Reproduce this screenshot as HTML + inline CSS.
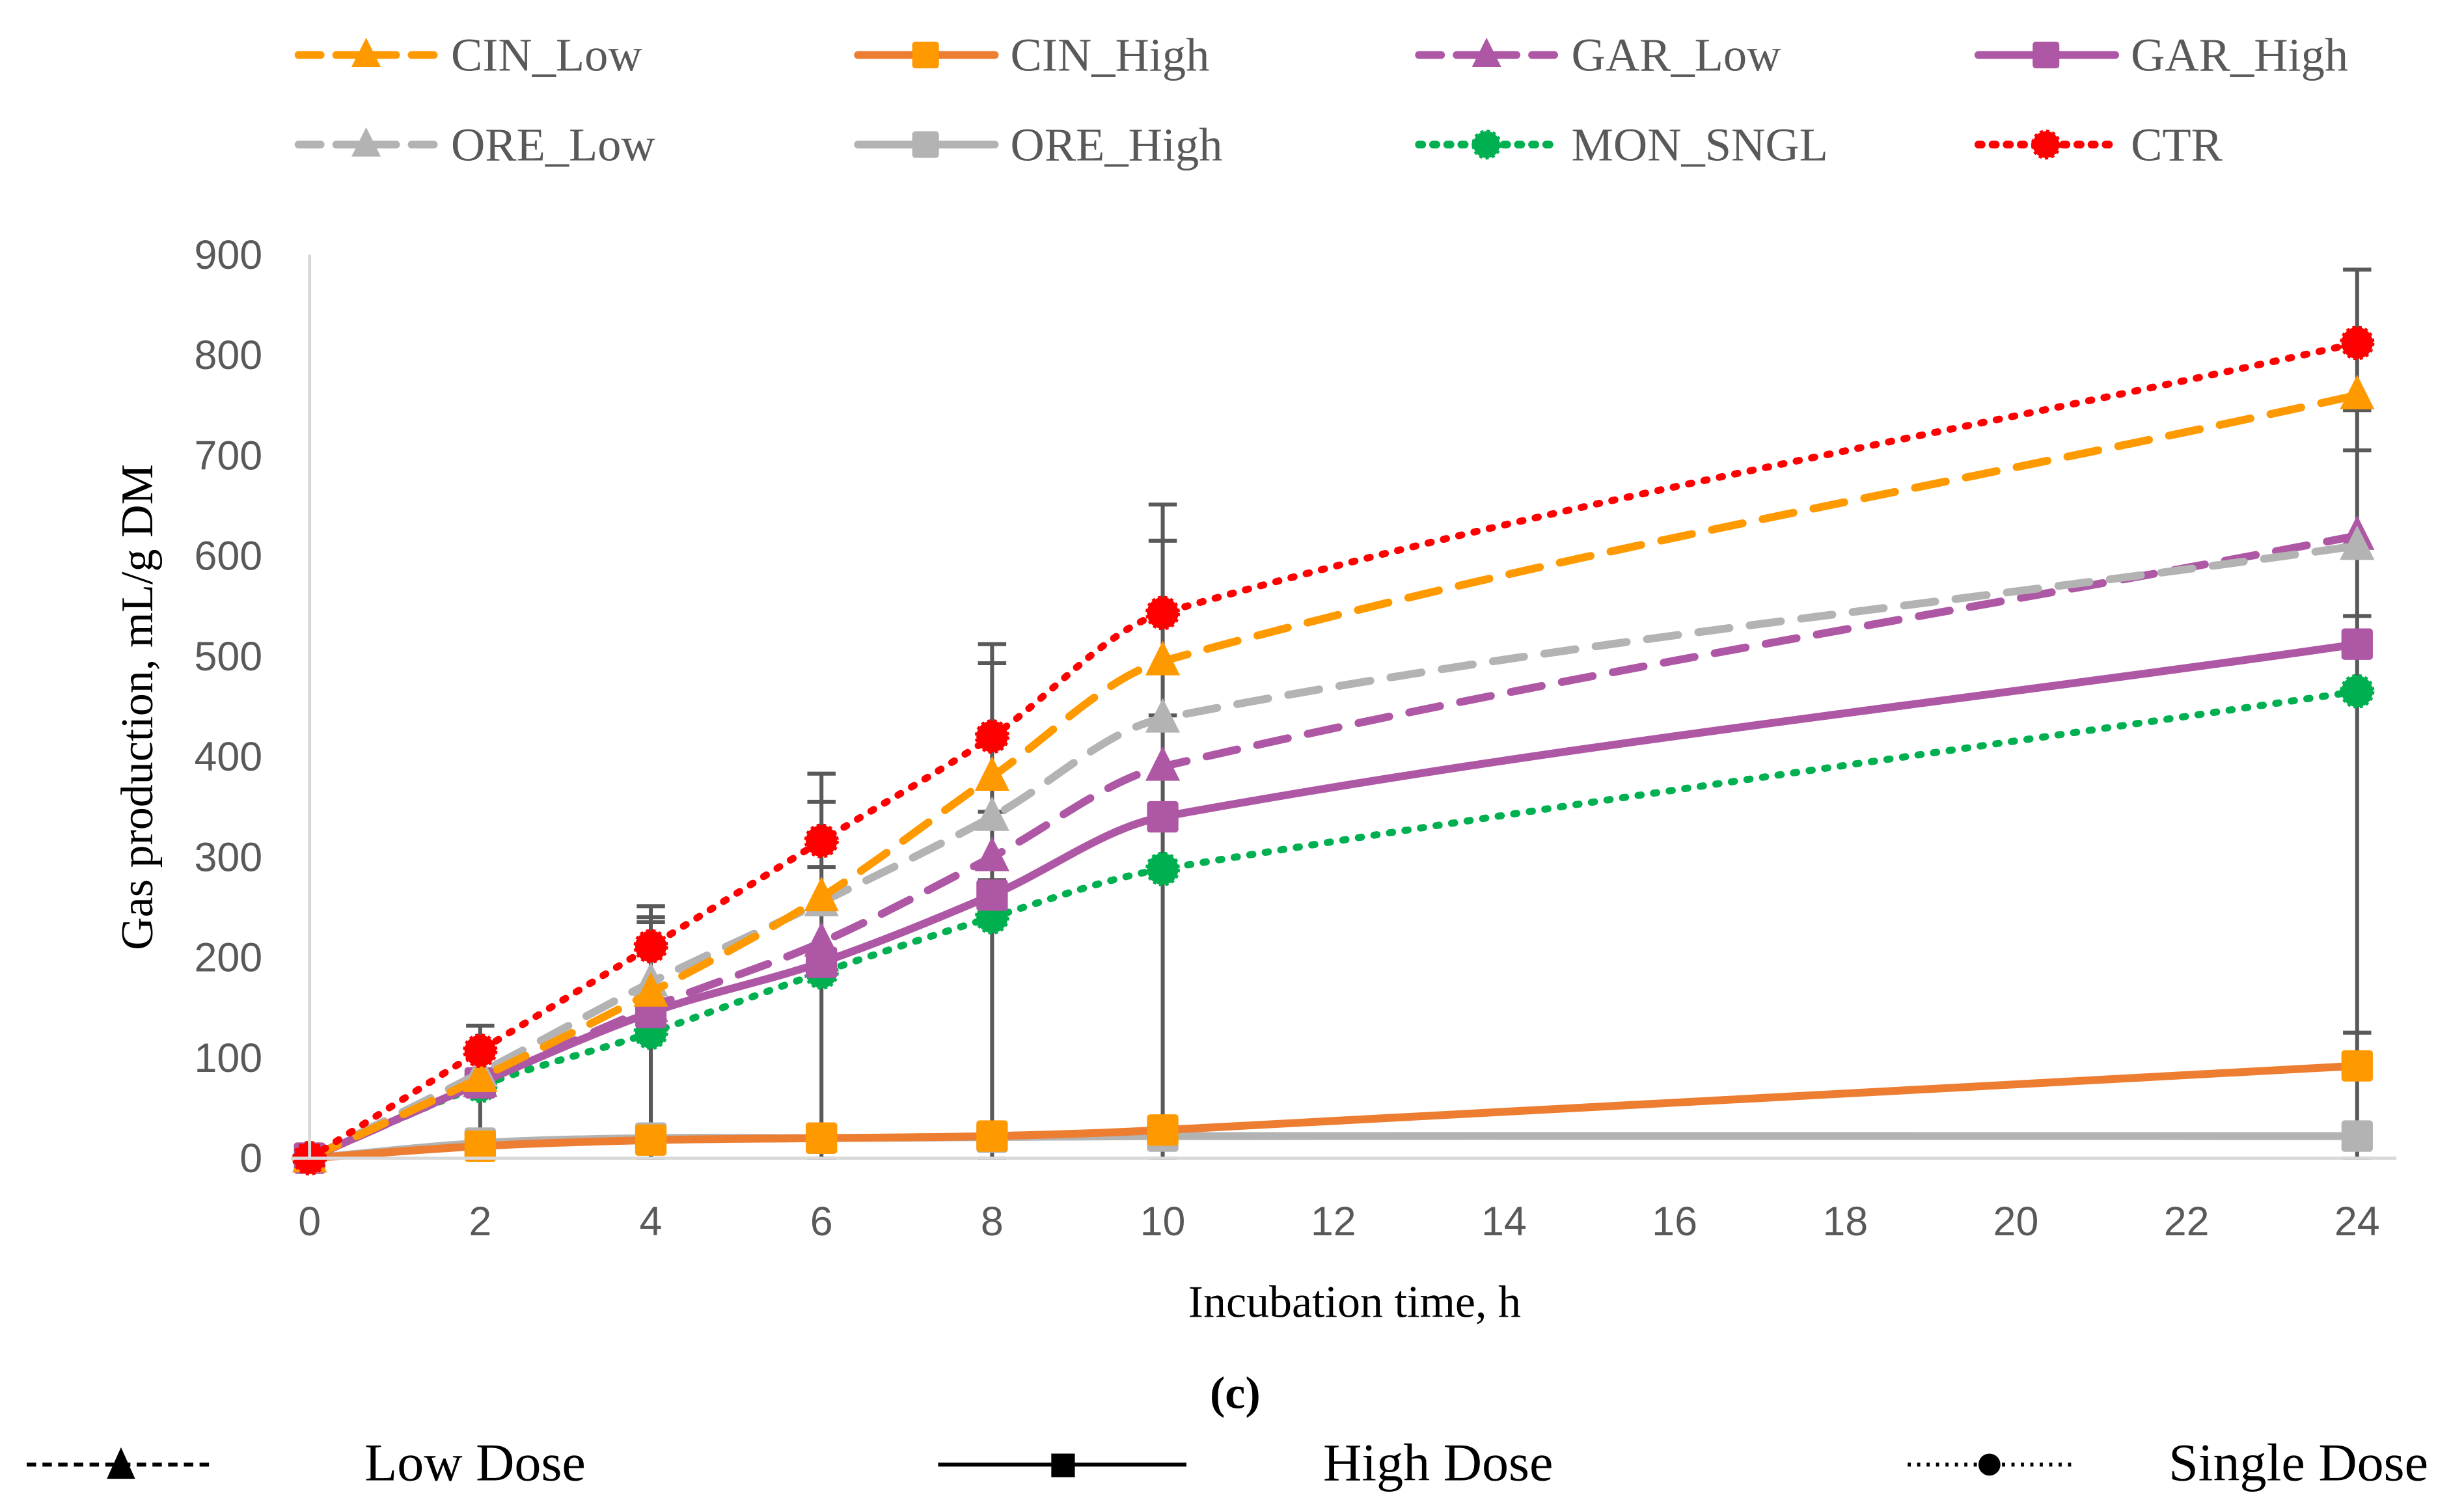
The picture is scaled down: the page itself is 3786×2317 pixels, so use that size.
<!DOCTYPE html>
<html><head><meta charset="utf-8"><style>
html,body{margin:0;padding:0;background:#fff;}
svg{display:block;}
.tk{font-family:"Liberation Sans",sans-serif;font-size:26px;fill:#595959;}
.lg{font-family:"Liberation Serif",serif;font-size:30px;fill:#595959;}
.ti{font-family:"Liberation Serif",serif;font-size:29px;fill:#000;}
.bl{font-family:"Liberation Serif",serif;font-size:34px;fill:#000;}
</style></head><body>
<svg id="chart" width="3786" height="2317" viewBox="0 0 1568 959.6" xmlns="http://www.w3.org/2000/svg">
<rect width="1568" height="960" fill="#fff"/>
<g id="errs"></g>
<g id="series"></g>
<g id="axes"></g>
<g id="legend"></g>
<text class="ti" x="862" y="838" text-anchor="middle">Incubation time, h</text>
<text class="ti" transform="translate(97,450) rotate(-90)" text-anchor="middle">Gas production, mL/g DM</text>
<text class="ti" x="786" y="896" text-anchor="middle" font-weight="bold">(c)</text>
<g>
  <line x1="17" y1="932" x2="137" y2="932" stroke="#000" stroke-width="2.5" stroke-dasharray="6,4"/>
  <polygon points="77,921 68,941 86,941" fill="#000"/>
  <text class="bl" x="232" y="942">Low Dose</text>
  <line x1="597" y1="932" x2="755" y2="932" stroke="#000" stroke-width="2.5"/>
  <rect x="669" y="925" width="15" height="15" fill="#000"/>
  <text class="bl" x="842" y="942">High Dose</text>
  <line x1="1214" y1="932" x2="1318" y2="932" stroke="#000" stroke-width="2.5" stroke-dasharray="2,4"/>
  <circle cx="1266" cy="932" r="7" fill="#000"/>
  <text class="bl" x="1380" y="942">Single Dose</text>
</g>
</svg>
<script>
const times = [0, 2, 4, 6, 8, 10, 24];
const yTicks = [0, 100, 200, 300, 400, 500, 600, 700, 800, 900];
const xTicks = [0, 2, 4, 6, 8, 10, 12, 14, 16, 18, 20, 22, 24];
const cinLow = [0, 80, 165, 260, 380, 495, 760];
const cinHigh = [0, 12, 18, 20, 22, 28, 92];
const garLow = [0, 75, 150, 215, 300, 390, 620];
const garHigh = [0, 75, 145, 195, 262, 340, 512];
const oreLow = [0, 85, 175, 255, 340, 438, 610];
const oreHigh = [0, 15, 20, 20, 21, 22, 22];
const monSngl = [0, 72, 125, 185, 240, 288, 465];
const ctr = [0, 107, 211, 316, 420, 543, 812];
const ctrErr = [0, 25, 40, 67, 92, 108, 73];
const cinLowErr = [0, 30, 75, 95, 113, 120, -15];
const oreLowErr = [0, 20, 60, 35, 5, 3, 95];
const garHighErr = [0, 5, 10, 10, 15, 10, 28];
const cinHighErr = [0, 0, 0, 0, 0, 0, 33];

const NS = "http://www.w3.org/2000/svg";
const X = t => 197 + t * (1500 - 197) / 24;
const Y = v => 737 - v * (737 - 162) / 900;
function el(tag, attrs, parent){const e=document.createElementNS(NS,tag);for(const k in attrs)e.setAttribute(k,attrs[k]);parent.appendChild(e);return e;}
const axes=document.getElementById('axes'), errs=document.getElementById('errs'), ser=document.getElementById('series'), leg=document.getElementById('legend');

const yl=el('line',{x1:X(0),y1:Y(900),x2:X(0),y2:Y(0),stroke:'#d9d9d9','stroke-width':2},axes);


const xl=el('line',{x1:185,y1:Y(0),x2:1525,y2:Y(0),stroke:'#d9d9d9','stroke-width':2},axes);


yTicks.forEach(v=>{const t=el('text',{class:'tk',x:167,y:Y(v)+9,'text-anchor':'end'},axes);t.textContent=v;

});
xTicks.forEach(v=>{const t=el('text',{class:'tk',x:X(v),y:786,'text-anchor':'middle'},axes);t.textContent=v;

});

const errSets=[[ctr,ctrErr],[cinLow,cinLowErr],[oreLow,oreLowErr],[garHigh,garHighErr],[cinHigh,cinHighErr]];
times.forEach((t,i)=>{
  if(i===0) return;
  let top=0;
  errSets.forEach(([s,e])=>{top=Math.max(top,s[i]+e[i]);});
  const l=el('line',{x1:X(t),y1:Y(top),x2:X(t),y2:Y(0),stroke:'#595959','stroke-width':2.5},errs);
  
  
  errSets.forEach(([s,e])=>{if(e[i]===0)return;const c=el('line',{x1:X(t)-9,y1:Y(s[i]+e[i]),x2:X(t)+9,y2:Y(s[i]+e[i]),stroke:'#595959','stroke-width':2.5},errs);
  
  });
  const b=el('line',{x1:X(t)-9,y1:Y(0),x2:X(t)+9,y2:Y(0),stroke:'#595959','stroke-width':2},errs);
  
  
});

function smooth(pts){
  const n=pts.length, m=[];
  for(let i=0;i<n;i++){
    const a=pts[Math.max(0,i-1)], b=pts[Math.min(n-1,i+1)];
    m.push((b[1]-a[1])/(b[0]-a[0]));
  }
  let d=`M${pts[0][0]},${pts[0][1]}`;
  for(let i=0;i<n-1;i++){
    const p1=pts[i],p2=pts[i+1],dx=(p2[0]-p1[0])/3;
    d+=` C${p1[0]+dx},${p1[1]+m[i]*dx} ${p2[0]-dx},${p2[1]-m[i+1]*dx} ${p2[0]},${p2[1]}`;
  }
  return d;
}
function marker(type,x,y,color,g,size){
  size=size||1;
  if(type==='tri') return el('polygon',{points:`${x},${y-13*size} ${x-11*size},${y+9*size} ${x+11*size},${y+9*size}`,fill:color},g);
  if(type==='sq') return el('rect',{x:x-10*size,y:y-10*size,width:20*size,height:20*size,rx:2,fill:color},g);
  return el('circle',{cx:x,cy:y,r:10*size,fill:color,stroke:color,'stroke-width':2,'stroke-dasharray':'2,2'},g);
}
const defs=[
 {name:'ORE_High',data:oreHigh,color:'#b3b3b3',mc:'#b3b3b3',dash:'',m:'sq',w:5},
 {name:'CIN_High',data:cinHigh,color:'#ed7d31',mc:'#ff9900',dash:'',m:'sq',w:5},
 {name:'MON_SNGL',data:monSngl,color:'#00b050',mc:'#00b050',dash:'2,8',m:'ci',w:4.5},
 {name:'GAR_High',data:garHigh,color:'#ae57a4',mc:'#ae57a4',dash:'',m:'sq',w:5},
 {name:'GAR_Low',data:garLow,color:'#ae57a4',mc:'#ae57a4',dash:'20,13',m:'tri',w:5},
 {name:'ORE_Low',data:oreLow,color:'#b3b3b3',mc:'#b3b3b3',dash:'20,13',m:'tri',w:5},
 {name:'CIN_Low',data:cinLow,color:'#ff9900',mc:'#ff9900',dash:'20,13',m:'tri',w:5},
 {name:'CTR',data:ctr,color:'#ff0000',mc:'#ff0000',dash:'2,8',m:'ci',w:4.5}
];
defs.forEach(s=>{
  const g=el('g',{},ser);
  
  
  const pts=times.map((t,i)=>[X(t),Y(s.data[i])]);
  const p=el('path',{d:smooth(pts),fill:'none',stroke:s.color,'stroke-width':s.w,'stroke-dasharray':s.dash,'stroke-linecap':'round'},g);
  
  
  pts.forEach(([x,y])=>{const mk=marker(s.m,x,y,s.mc,g);
    
    });
});

const legendEntries=[
 ['CIN_Low','#ff9900','#ff9900','14,10','tri',187,35],
 ['CIN_High','#ed7d31','#ff9900','','sq',543,35],
 ['GAR_Low','#ae57a4','#ae57a4','14,10','tri',900,35],
 ['GAR_High','#ae57a4','#ae57a4','','sq',1256,35],
 ['ORE_Low','#b3b3b3','#b3b3b3','14,10','tri',187,92],
 ['ORE_High','#b3b3b3','#b3b3b3','','sq',543,92],
 ['MON_SNGL','#00b050','#00b050','2,7','ci',900,92],
 ['CTR','#ff0000','#ff0000','2,7','ci',1256,92]
];
legendEntries.forEach(([n,c,mc,dash,m,x,y])=>{
  const g=el('g',{},leg);
  
  
  el('line',{x1:x+3,y1:y,x2:x+90,y2:y,stroke:c,'stroke-width':5,'stroke-dasharray':dash,'stroke-linecap':'round'},g);
  marker(m,x+46,y,mc,g,0.85);
  const t=el('text',{class:'lg',x:x+100,y:y+10},g);t.textContent=n;
});
</script>
</body></html>
